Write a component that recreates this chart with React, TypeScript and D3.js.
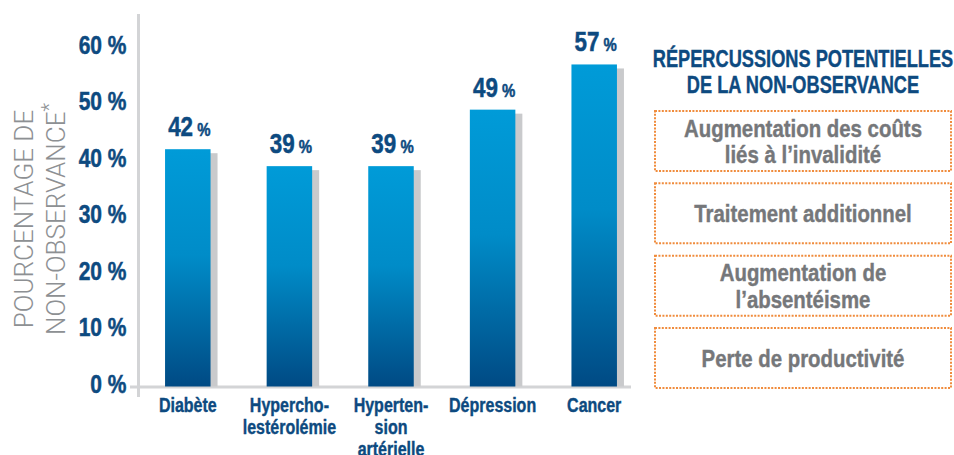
import {useRef, useEffect} from "react";
import * as d3 from "d3";

const categories = ["Diabète", "Hypercholestérolémie", "Hypertension artérielle", "Dépression", "Cancer"];
const categoryLines = [["Diabète"], ["Hypercho-", "lestérolémie"], ["Hyperten-", "sion", "artérielle"], ["Dépression"], ["Cancer"]];
const values = [42, 39, 39, 49, 57];
const yTicks = [0, 10, 20, 30, 40, 50, 60];
const yTitle = ["POURCENTAGE DE", "NON-OBSERVANCE"];
const panelTitle = ["RÉPERCUSSIONS POTENTIELLES", "DE LA NON-OBSERVANCE"];
const impacts = [
  ["Augmentation des coûts", "liés à l’invalidité"],
  ["Traitement additionnel"],
  ["Augmentation de", "l’absentéisme"],
  ["Perte de productivité"]
];

// no condensed font installed: Liberation Sans squeezed horizontally
const bold = "'Liberation Sans', Arial, sans-serif";
const blue = "#0d4a80";
const grey = "#75777a";

export default function App(){
  const root = useRef<SVGSVGElement>(null);
  const width = 954;
  const height = 455;

  useEffect(() => {
    const svg = d3.select(root.current);
    svg.selectAll("*").remove();

    const x = d3.scalePoint<string>().domain(categories).range([137, 645]).padding(0.5);
    const y = d3.scaleLinear([0, 60], [386.5, 47.5]);
    const bw = 45.5;

    const grad = svg.append("defs").append("linearGradient")
      .attr("id", "barGrad").attr("x1", 0).attr("y1", 0).attr("x2", 0).attr("y2", 1);
    grad.append("stop").attr("offset", "0%").attr("stop-color", "#009bd8");
    grad.append("stop").attr("offset", "45%").attr("stop-color", "#008cc8");
    grad.append("stop").attr("offset", "100%").attr("stop-color", "#004a84");

    // axis lines
    svg.append("line").attr("x1", 138.5).attr("x2", 138.5).attr("y1", 14).attr("y2", 397)
      .attr("stroke", "#d3d4d6").attr("stroke-width", 3);
    svg.append("line").attr("x1", 130).attr("x2", 631).attr("y1", 387).attr("y2", 387)
      .attr("stroke", "#d3d4d6").attr("stroke-width", 3);

    // y axis labels
    const sAxis = 0.84;
    const yAxis = svg.append("g")
      .attr("transform", "translate(138.5,0)")
      .call(d3.axisLeft(y).tickValues(yTicks).tickSize(0).tickPadding(12).tickFormat(d => d + " %"));
    yAxis.select(".domain").remove();
    yAxis.selectAll("text")
      .attr("x", -12 / sAxis)
      .attr("transform", `scale(${sAxis},1)`)
      .attr("dy", "0.22em")
      .attr("fill", blue)
      .attr("stroke", blue)
      .attr("stroke-width", 0.5)
      .style("font-family", bold)
      .style("font-weight", "bold")
      .style("font-size", "25px");

    // y title
    const yt = svg.append("g").attr("fill", "#8d9093")
      .style("font-family", "Roboto, 'Liberation Sans', sans-serif")
      .style("font-weight", 300)
      .style("font-size", "26px");
    yt.append("text").attr("transform", "translate(33,219) rotate(-90)")
      .attr("text-anchor", "middle").text(yTitle[0]);
    const l2 = yt.append("text").attr("transform", "translate(65,219) rotate(-90)")
      .attr("text-anchor", "middle");
    l2.append("tspan").text(yTitle[1]);
    l2.append("tspan").attr("dy", -9).style("font-size", "20px").text("*");

    // shadows
    svg.append("g").selectAll("rect").data(values).enter().append("rect")
      .attr("x", (d, i) => x(categories[i])! - bw / 2 + 7)
      .attr("y", d => y(d) + 4)
      .attr("width", bw)
      .attr("height", d => y(0) - y(d) - 4)
      .attr("fill", "#c9cacc");

    // bars
    svg.append("g").selectAll("rect").data(values).enter().append("rect")
      .attr("x", (d, i) => x(categories[i])! - bw / 2)
      .attr("y", d => y(d))
      .attr("width", bw)
      .attr("height", d => y(0) - y(d))
      .attr("fill", "url(#barGrad)");

    // value labels
    const vl = svg.append("g").selectAll("text").data(values).enter().append("text")
      .attr("transform", (d, i) => `translate(${x(categories[i])! + 1.5},${y(d) - 13}) scale(0.83,1)`)
      .attr("text-anchor", "middle")
      .attr("fill", blue)
      .attr("stroke", blue)
      .attr("stroke-width", 0.5)
      .style("font-family", bold)
      .style("font-weight", "bold");
    vl.append("tspan").style("font-size", "27px").text(d => d);
    vl.append("tspan").attr("dx", 5).style("font-size", "18px").text("%");

    // category labels
    const cl = svg.append("g").selectAll("text").data(categoryLines).enter().append("text")
      .attr("transform", (d, i) => `translate(${x(categories[i])!},0) scale(0.8,1)`)
      .attr("text-anchor", "middle")
      .attr("fill", blue)
      .attr("stroke", blue)
      .attr("stroke-width", 0.4)
      .style("font-family", bold)
      .style("font-weight", "bold")
      .style("font-size", "20px");
    cl.each(function(lines){
      d3.select(this).selectAll("tspan").data(lines).enter().append("tspan")
        .attr("x", 0)
        .attr("y", (d, k) => 412.5 + k * 22)
        .text(d => d);
    });

    // right panel
    const cx = 803;
    const pt = svg.append("g").attr("fill", blue).attr("stroke", blue).attr("stroke-width", 0.4)
      .style("font-family", bold)
      .style("font-weight", "bold").style("font-size", "23.5px");
    pt.selectAll("text").data(panelTitle).enter().append("text")
      .attr("transform", (d, i) => `translate(${cx},${67 + i * 26}) scale(0.775,1)`)
      .attr("text-anchor", "middle").text(d => d);

    const by = d3.scaleBand<number>().domain(d3.range(impacts.length)).range([111, 388]).paddingInner(0.17);
    const box = svg.append("g").selectAll("g").data(impacts).enter().append("g");
    box.append("rect")
      .attr("x", 655).attr("width", 296)
      .attr("y", (d, i) => by(i)!)
      .attr("height", by.bandwidth())
      .attr("fill", "none")
      .attr("stroke", "#f08c3d")
      .attr("stroke-width", 2)
      .attr("stroke-dasharray", "2 1.4");
    box.each(function(lines, i){
      const c = by(i)! + by.bandwidth() / 2;
      d3.select(this).append("text")
        .attr("transform", `translate(${cx},0) scale(0.85,1)`)
        .attr("text-anchor", "middle")
        .attr("fill", grey)
        .attr("stroke", grey)
        .attr("stroke-width", 0.4)
        .style("font-family", bold)
        .style("font-weight", "bold").style("font-size", "24px")
        .selectAll("tspan").data(lines).enter().append("tspan")
        .attr("x", 0)
        .attr("y", (d, k) => c + 9 + (k - (lines.length - 1) / 2) * 26.5)
        .text(d => d);
    });
  }, []);

  return (
    <svg ref={root} width={width} height={height}
      style={{position: "absolute", left: 0, top: 0, background: "#fff"}}></svg>
  );
}
